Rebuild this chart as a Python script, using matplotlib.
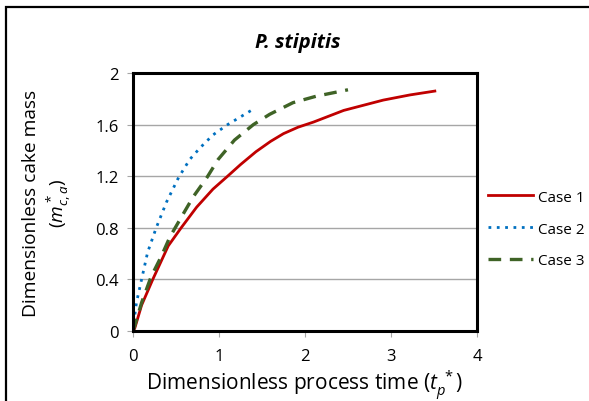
import matplotlib.pyplot as plt
from matplotlib.patches import Rectangle

plt.rcParams['font.family'] = ['Open Sans', 'DejaVu Sans']
plt.rcParams['mathtext.fontset'] = 'custom'
plt.rcParams['mathtext.it'] = 'Open Sans:italic'
plt.rcParams['mathtext.rm'] = 'Open Sans'

# Case 1 (red solid)
case1_t = [0.0, 0.02, 0.10, 0.23, 0.41, 0.56, 0.74, 0.93, 1.10, 1.25, 1.43, 1.60, 1.75,
           1.92, 2.10, 2.45, 2.91, 3.22, 3.51]
case1_m = [0.0, 0.02, 0.20, 0.40, 0.66, 0.80, 0.96, 1.10, 1.20, 1.29, 1.39, 1.47, 1.53,
           1.58, 1.62, 1.71, 1.79, 1.83, 1.86]

# Case 2 (blue dotted)
case2_t = [0.0, 0.01, 0.04, 0.10, 0.17, 0.27, 0.39, 0.53, 0.66, 0.78, 0.93, 1.10, 1.25, 1.40]
case2_m = [0.0, 0.07, 0.22, 0.40, 0.61, 0.80, 1.00, 1.19, 1.33, 1.42, 1.52, 1.60, 1.66, 1.72]

# Case 3 (green dashed)
case3_t = [0.0, 0.02, 0.10, 0.21, 0.33, 0.43, 0.56, 0.70, 0.86, 0.99, 1.18, 1.40, 1.59,
           1.86, 2.13, 2.50]
case3_m = [0.0, 0.04, 0.22, 0.42, 0.58, 0.73, 0.88, 1.04, 1.19, 1.33, 1.48, 1.60, 1.68,
           1.77, 1.82, 1.87]

x_ticks = [0, 1, 2, 3, 4]
y_ticks = [0, 0.4, 0.8, 1.2, 1.6, 2]
y_tick_labels = ['0', '0.4', '0.8', '1.2', '1.6', '2']

fig = plt.figure(figsize=(5.89, 4.02), dpi=100)
ax = fig.add_axes([0.2258, 0.1741, 0.5840, 0.6418])

# outer chart border (only left and top edges fall inside the image)
fig.patches.append(Rectangle((6 / 589, -0.2), 1.5, 0.2 + 1 - 8 / 402,
                             transform=fig.transFigure, fill=False,
                             edgecolor='black', linewidth=1.6, zorder=0))

ax.plot(case1_t, case1_m, color='#c00000', linewidth=2.0, label='Case 1')
ax.plot(case2_t, case2_m, color='#0070c0', linewidth=2.0, linestyle=(0, (1, 2)),
        label='Case 2')
ax.plot(case3_t, case3_m, color='#3f6326', linewidth=2.4, linestyle=(0, (3.8, 2.6)),
        label='Case 3')

ax.set_xlim(0, 4)
ax.set_ylim(0, 2)
ax.set_xticks(x_ticks)
ax.set_xticklabels([str(t) for t in x_ticks])
ax.set_yticks(y_ticks)
ax.set_yticklabels(y_tick_labels)
ax.tick_params(axis='both', direction='out', length=4, width=0.8, color='#a6a6a6',
               labelsize=12, pad=6)
ax.tick_params(axis='x', pad=8)
ax.grid(axis='y', color='#a6a6a6', linewidth=1.0)
ax.set_axisbelow(True)
for side in ['left', 'right', 'top', 'bottom']:
    ax.spines[side].set_linewidth(2.2)
    ax.spines[side].set_color('black')

ax.set_title('P. stipitis', fontsize=14.5, fontweight='bold', fontstyle='italic',
             pad=19, x=0.48)
ax.set_xlabel(r'Dimensionless process time ($t_p^{\ *}$)', fontsize=15, labelpad=3)
ax.set_ylabel('Dimensionless cake mass\n' + r'($m^*_{c,a}$)', fontsize=13.8,
              labelpad=16, linespacing=1.25)

ax.legend(loc='center left', bbox_to_anchor=(1.0, 0.395), frameon=False, fontsize=11,
          handlelength=3.0, handletextpad=0.3, labelspacing=1.1, borderaxespad=0.3)

fig.savefig('out.png', dpi=100)
